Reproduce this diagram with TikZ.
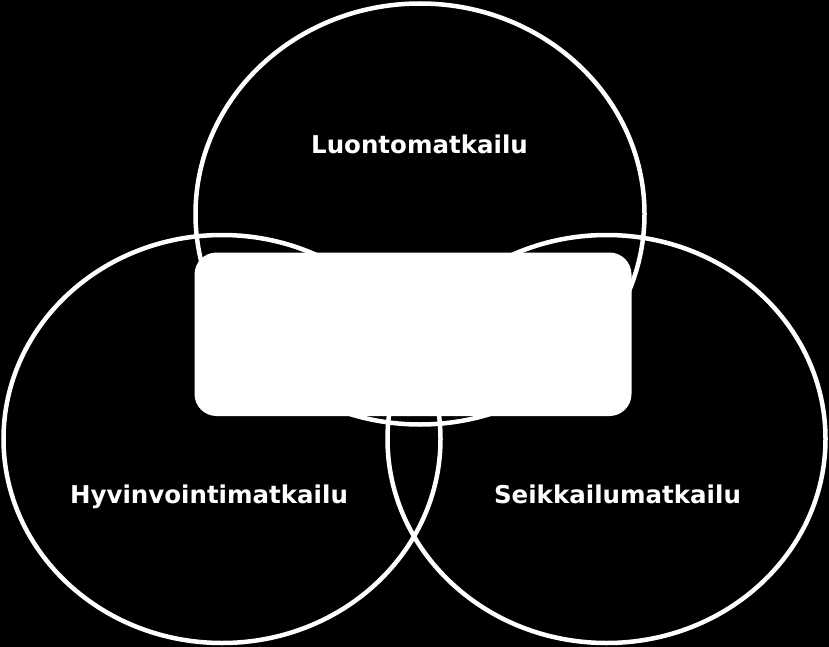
\documentclass[tikz,border=0pt]{standalone}
\usepackage{fontspec}
\setmainfont{DejaVu Sans}
\begin{document}
\begin{tikzpicture}[x=1pt,y=-1pt,
  ring/.style={draw=white,line width=4.5pt},
  label/.style={text=white,font=\fontsize{24.5}{28}\selectfont\bfseries,anchor=base,inner sep=0pt}]
\fill[black] (0,0) rectangle (829,647);
\useasboundingbox (0,0) rectangle (829,647);
\coordinate (P0) at (420,214);
\coordinate (P1) at (222,439);
\coordinate (P2) at (606.5,439);
\draw [ring] (P0) ellipse (224.5pt and 210.5pt);
\draw [ring] (P1) ellipse (218.5pt and 204pt);
\draw [ring] (P2) ellipse (219pt and 204pt);
\fill [white,rounded corners=22pt] (194.5,252.5) rectangle (631.5,416);
\node [label] (L0) at (419.5,154) {Luontomatkailu};
\node [label] (L1) at (209,503) {Hyvinvointimatkailu};
\node [label] (L2) at (617.5,503) {Seikkailumatkailu};
\end{tikzpicture}
\end{document}
